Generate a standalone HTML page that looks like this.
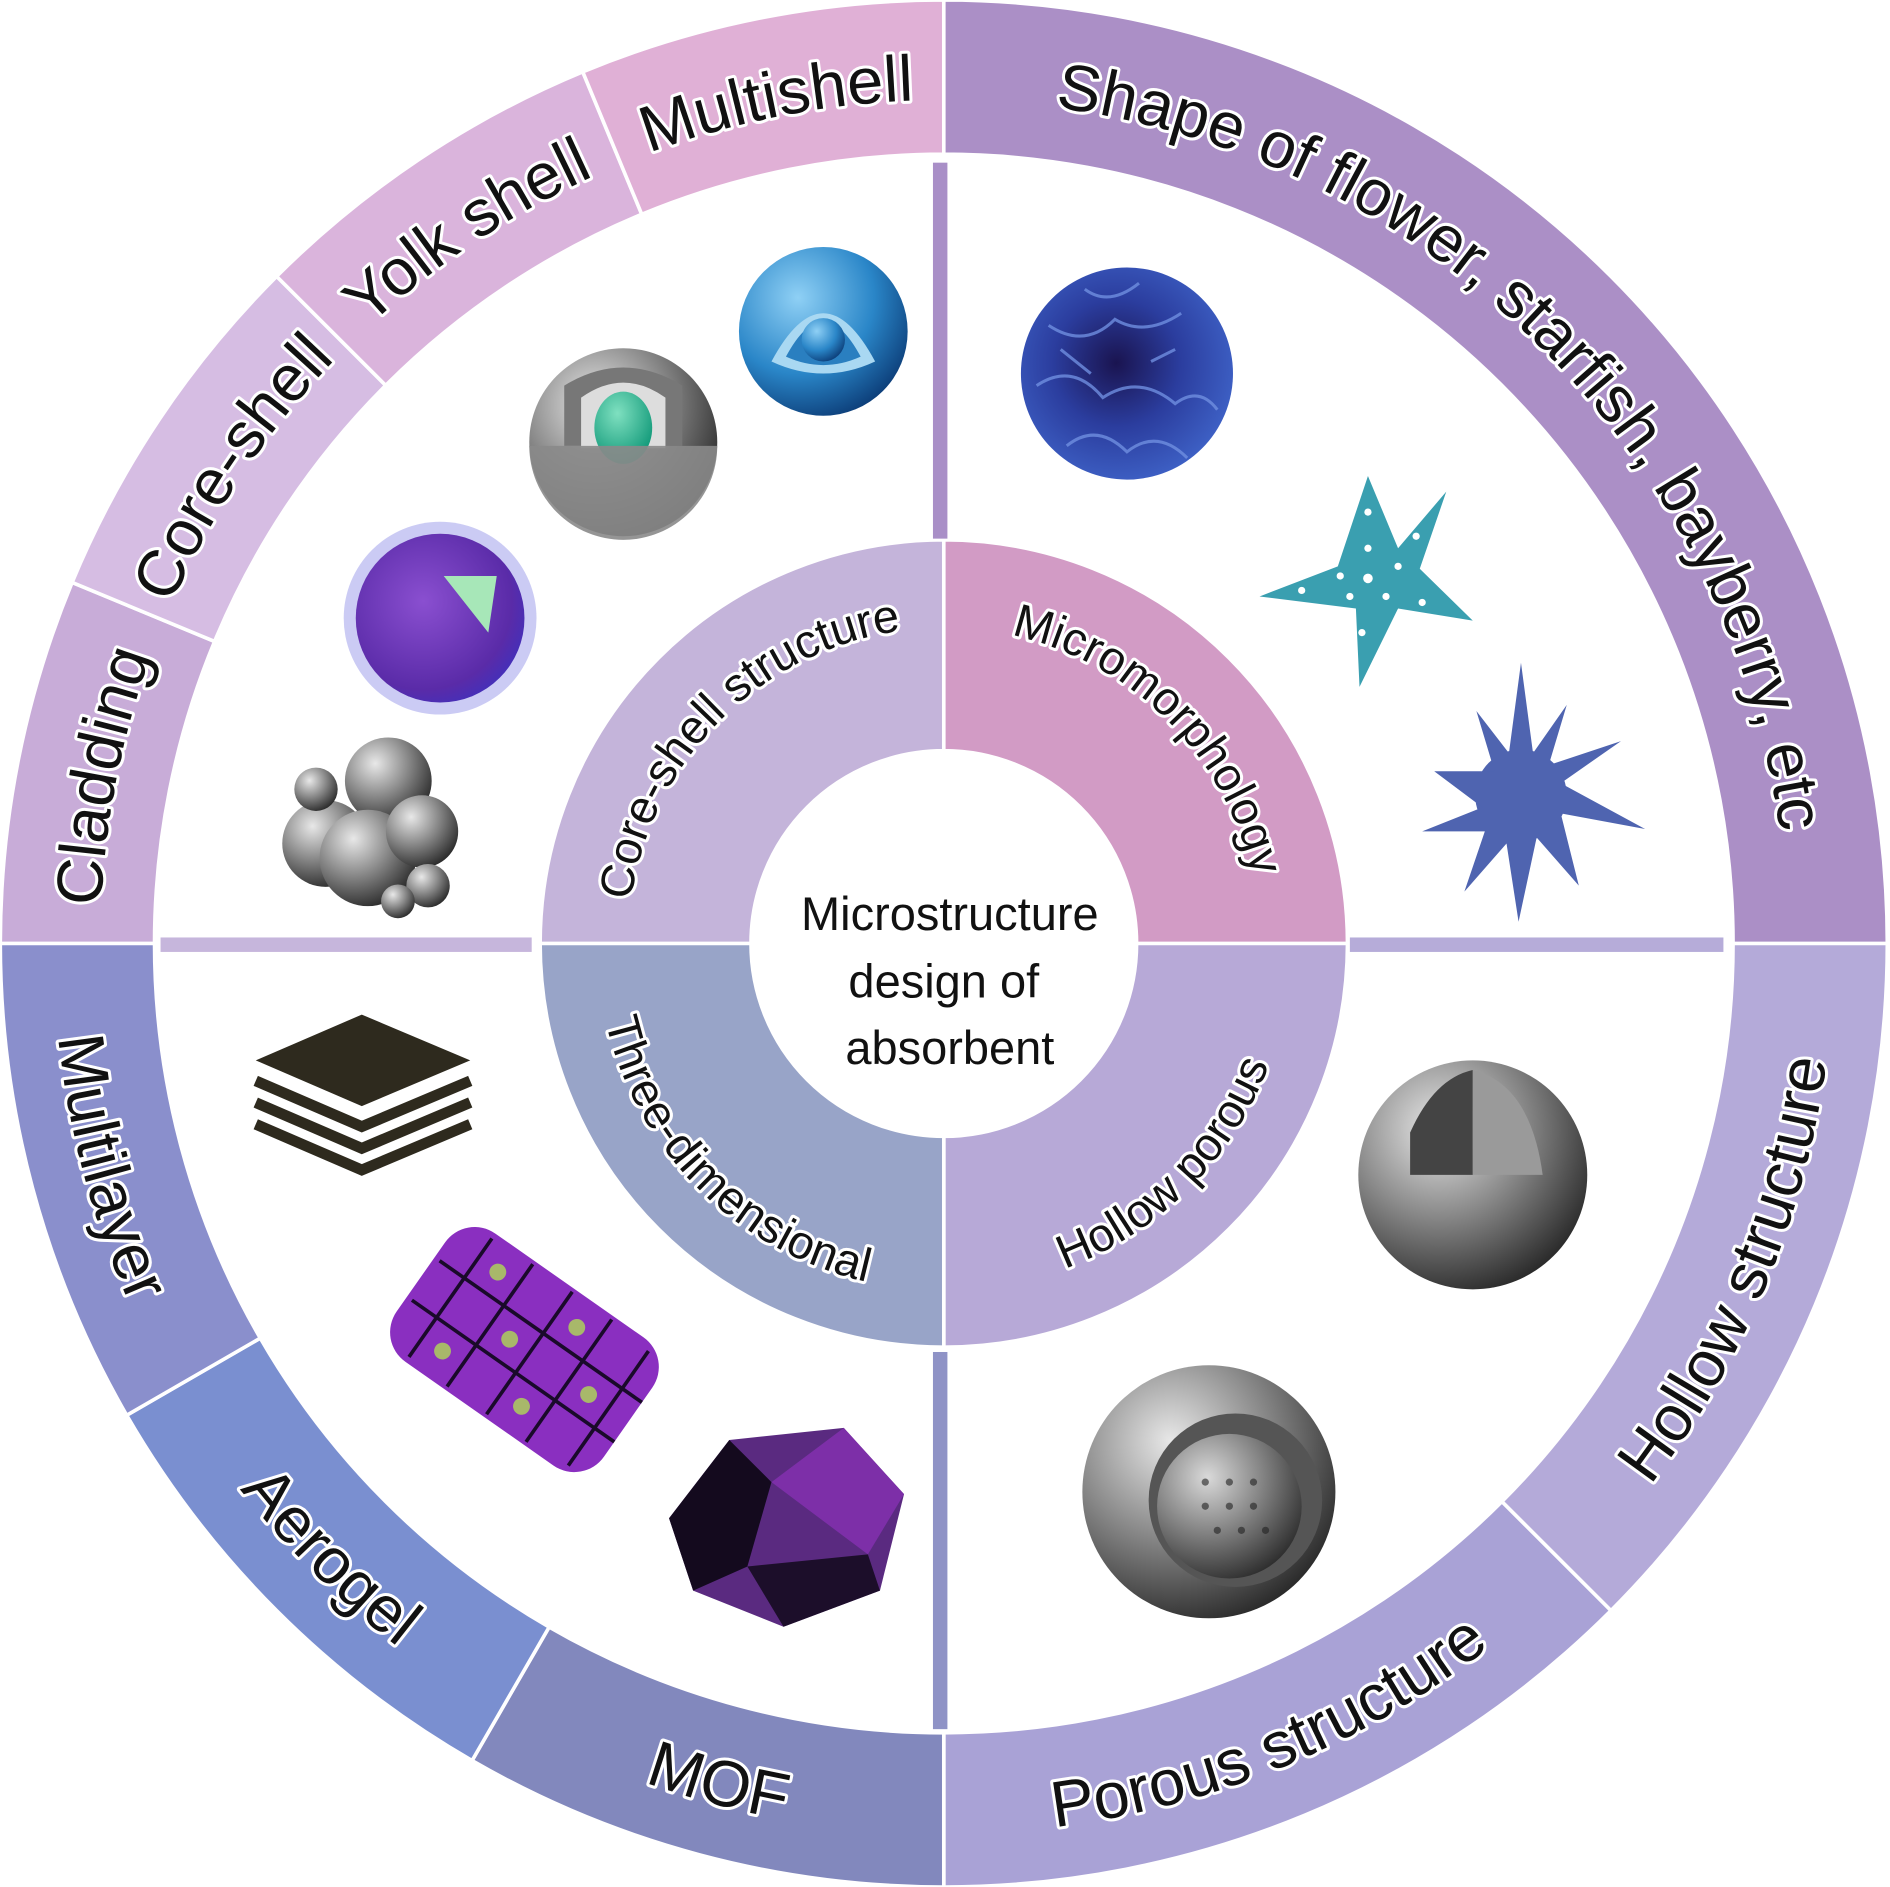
<!DOCTYPE html>
<html><head><meta charset="utf-8"><style>
html,body{margin:0;padding:0;background:#fff;}
svg{display:block;}
text{font-family:"Liberation Sans",sans-serif;}
.lbl{fill:#111;stroke:#fff;stroke-width:5;paint-order:stroke;stroke-linejoin:round;}
</style></head><body>
<svg id="s" width="1890" height="1887" viewBox="0 0 1568 1566" xmlns="http://www.w3.org/2000/svg">
<defs>
<radialGradient id="gGray" cx="35%" cy="30%" r="75%"><stop offset="0" stop-color="#e8e8e8"/><stop offset="0.5" stop-color="#8a8a8a"/><stop offset="1" stop-color="#2a2a2a"/></radialGradient>
<radialGradient id="gBlue" cx="35%" cy="30%" r="75%"><stop offset="0" stop-color="#8fd0f5"/><stop offset="0.6" stop-color="#2a86c8"/><stop offset="1" stop-color="#0d3f7a"/></radialGradient>
<radialGradient id="gPurp" cx="40%" cy="40%" r="70%"><stop offset="0" stop-color="#8a4fd0"/><stop offset="0.75" stop-color="#5a2ba8"/><stop offset="1" stop-color="#3b31c0"/></radialGradient>
<radialGradient id="gFlower" cx="45%" cy="45%" r="60%"><stop offset="0" stop-color="#1a1450"/><stop offset="0.5" stop-color="#2b3d9e"/><stop offset="1" stop-color="#3f63c8"/></radialGradient>
<radialGradient id="gGreen" cx="40%" cy="30%" r="70%"><stop offset="0" stop-color="#7fe0c0"/><stop offset="1" stop-color="#139a7a"/></radialGradient>
</defs>
<g id="rings"></g>
<rect x="774" y="135" width="12" height="312" fill="#a98fc7"/>
<rect x="774" y="1122" width="12" height="313" fill="#8f93c6"/>
<rect x="133" y="778" width="308" height="12" fill="#c6b6dc"/>
<rect x="1120" y="778" width="310" height="12" fill="#b6acd9"/>
<circle cx="783" cy="783" r="160" fill="#fff"/>

<circle cx="683" cy="275" r="70" fill="url(#gBlue)"/>
<path d="M640 300 Q683 220 726 300 Q683 320 640 300Z" fill="#a9d8f2"/>
<path d="M652 296 Q683 238 714 296 Q683 310 652 296Z" fill="#2a7fc0"/>
<circle cx="683" cy="282" r="18" fill="url(#gBlue)"/>
<circle cx="517" cy="367" r="78" fill="url(#gGray)"/>
<path d="M468 370 L468 320 Q517 290 566 320 L566 370Z" fill="#777"/>
<path d="M482 372 L482 330 Q517 305 552 330 L552 372Z" fill="#ddd"/>
<ellipse cx="517" cy="355" rx="24" ry="30" fill="url(#gGreen)"/>
<path d="M439 370 L595 370 A78 78 0 0 1 439 370Z" fill="#8a8a8a" opacity="0.9"/>
<circle cx="365" cy="513" r="80" fill="#6b6ae0" opacity="0.35"/>
<circle cx="365" cy="513" r="70" fill="url(#gPurp)"/>
<path d="M368 478 L412 478 L405 525 Z" fill="#a7e7b8"/>
<g fill="url(#gGray)">
<circle cx="322" cy="648" r="36"/><circle cx="270" cy="700" r="36"/><circle cx="305" cy="712" r="40"/>
<circle cx="350" cy="690" r="30"/><circle cx="262" cy="655" r="18"/><circle cx="355" cy="735" r="18"/><circle cx="330" cy="748" r="14"/>
</g>
<circle cx="935" cy="310" r="88" fill="url(#gFlower)"/>
<g stroke="#6f8ee0" stroke-width="2.5" fill="none" opacity="0.8">
<path d="M870 270 Q900 290 925 265 Q950 280 980 260 M860 320 Q890 300 915 330 Q945 310 975 335 Q995 320 1010 340 M885 370 Q910 350 935 375 Q960 355 985 380 M900 240 Q920 255 945 235 M880 290 L905 310 M955 300 L975 290"/>
</g>
<polygon points="1135,395 1160,455 1200,408 1178,472 1222,515 1160,505 1128,570 1125,505 1045,495 1110,470" fill="#3a9fb0"/>
<g fill="#fff"><circle cx="1135" cy="480" r="4"/><circle cx="1135" cy="455" r="3"/><circle cx="1160" cy="470" r="3"/><circle cx="1150" cy="495" r="3"/><circle cx="1120" cy="495" r="3"/><circle cx="1112" cy="478" r="3"/><circle cx="1130" cy="525" r="3"/><circle cx="1180" cy="500" r="3"/><circle cx="1080" cy="490" r="3"/><circle cx="1175" cy="445" r="3"/><circle cx="1135" cy="425" r="3"/></g>
<g fill="#4f64b0">
<circle cx="1262" cy="660" r="38"/>
<polygon points="1262,550 1272,625 1300,585 1285,635 1345,615 1295,650 1365,688 1295,675 1310,735 1275,695 1260,765 1250,700 1215,740 1232,690 1180,690 1230,670 1190,640 1240,640 1225,590 1252,625"/>
</g>
<g>
<polygon points="300,842 390,880 300,918 212,880" fill="#2e2a1e"/>
<path d="M212 897 L300 935 L390 897" stroke="#2e2a1e" stroke-width="9" fill="none"/>
<path d="M212 915 L300 953 L390 915" stroke="#2e2a1e" stroke-width="9" fill="none"/>
<path d="M212 933 L300 971 L390 933" stroke="#2e2a1e" stroke-width="9" fill="none"/>
</g>
<g transform="rotate(35 435 1120)">
<rect x="330" y="1055" width="210" height="130" rx="30" fill="#8a2fc0"/>
<g stroke="#1a0a2a" stroke-width="3" fill="none"><path d="M360 1060 L360 1180 M400 1058 L400 1182 M440 1058 L440 1182 M480 1058 L480 1182 M520 1062 L520 1178 M335 1100 L540 1100 M335 1140 L540 1140"/></g>
<g fill="#a8b86a"><circle cx="380" cy="1080" r="7"/><circle cx="460" cy="1080" r="7"/><circle cx="420" cy="1120" r="7"/><circle cx="500" cy="1120" r="7"/><circle cx="380" cy="1160" r="7"/><circle cx="460" cy="1160" r="7"/></g>
</g>
<polygon points="605,1195 700,1185 750,1240 730,1320 650,1350 575,1320 555,1260" fill="#5a2a80"/>
<polygon points="640,1230 700,1185 750,1240 720,1290" fill="#7d2fa8"/>
<polygon points="555,1260 605,1195 640,1230 620,1300 575,1320" fill="#140a1e"/>
<polygon points="620,1300 720,1290 730,1320 650,1350" fill="#1c0e2a"/>
<circle cx="1222" cy="975" r="95" fill="url(#gGray)"/>
<path d="M1170 975 L1170 940 Q1190 895 1222 888 L1222 975Z" fill="#444"/>
<path d="M1222 888 Q1270 900 1280 975 L1222 975Z" fill="#9a9a9a"/>
<circle cx="1003" cy="1238" r="105" fill="url(#gGray)"/>
<circle cx="1025" cy="1245" r="72" fill="#555"/>
<circle cx="1020" cy="1250" r="60" fill="url(#gGray)" opacity="0.9"/>
<g fill="#222" opacity="0.6"><circle cx="1000" cy="1230" r="3"/><circle cx="1020" cy="1230" r="3"/><circle cx="1040" cy="1230" r="3"/><circle cx="1000" cy="1250" r="3"/><circle cx="1020" cy="1250" r="3"/><circle cx="1040" cy="1250" r="3"/><circle cx="1010" cy="1270" r="3"/><circle cx="1030" cy="1270" r="3"/><circle cx="1050" cy="1270" r="3"/></g>

<path id="t1" fill="none"/><path id="t2" fill="none"/><path id="t3" fill="none"/><path id="t4" fill="none"/>
<path id="t5" fill="none"/><path id="t6" fill="none"/><path id="t7" fill="none"/><path id="t8" fill="none"/>
<path id="t9" fill="none"/><path id="t10" fill="none"/>
<path id="i1" fill="none"/><path id="i2" fill="none"/><path id="i3" fill="none"/><path id="i4" fill="none"/>
<g font-size="54">
<text class="lbl"><textPath href="#t1" startOffset="50%" text-anchor="middle">Cladding</textPath></text>
<text class="lbl"><textPath href="#t2" startOffset="50%" text-anchor="middle">Core-shell</textPath></text>
<text class="lbl"><textPath href="#t3" startOffset="50%" text-anchor="middle">Yolk shell</textPath></text>
<text class="lbl"><textPath href="#t4" startOffset="50%" text-anchor="middle">Multishell</textPath></text>
<text class="lbl"><textPath href="#t5" startOffset="50%" text-anchor="middle">Shape of flower, starfish, bayberry, etc</textPath></text>
<text class="lbl"><textPath href="#t6" startOffset="50%" text-anchor="middle">Hollow structure</textPath></text>
<text class="lbl"><textPath href="#t7" startOffset="50%" text-anchor="middle">Porous structure</textPath></text>
<text class="lbl"><textPath href="#t8" startOffset="50%" text-anchor="middle">MOF</textPath></text>
<text class="lbl"><textPath href="#t9" startOffset="50%" text-anchor="middle">Aerogel</textPath></text>
<text class="lbl"><textPath href="#t10" startOffset="50%" text-anchor="middle">Multilayer</textPath></text>
</g>
<g font-size="39">
<text class="lbl"><textPath href="#i1" startOffset="50%" text-anchor="middle">Core-shell structure</textPath></text>
<text class="lbl"><textPath href="#i2" startOffset="50%" text-anchor="middle">Micromorphology</textPath></text>
<text class="lbl"><textPath href="#i3" startOffset="50%" text-anchor="middle">Hollow porous</textPath></text>
<text class="lbl"><textPath href="#i4" startOffset="50%" text-anchor="middle">Three-dimensional</textPath></text>
</g>
<g font-size="39" fill="#111" text-anchor="middle">
<text x="788" y="772">Microstructure</text>
<text x="783" y="828">design of</text>
<text x="788" y="883">absorbent</text>
</g>
</svg>
<script>
var C=783,R=Math.PI/180;
function P(r,a){return [C+r*Math.cos(a*R),C+r*Math.sin(a*R)];}
function sector(r1,r2,a1,a2){var p1=P(r2,a1),p2=P(r2,a2),p3=P(r1,a2),p4=P(r1,a1),l=(a2-a1)>180?1:0;
return 'M'+p1+' A'+r2+' '+r2+' 0 '+l+' 1 '+p2+' L'+p3+' A'+r1+' '+r1+' 0 '+l+' 0 '+p4+'Z';}
function arc(r,a1,a2){var p1=P(r,a1),p2=P(r,a2);var sw=a2>a1?1:0;return 'M'+p1+' A'+r+' '+r+' 0 0 '+sw+' '+p2;}
var g=document.getElementById('rings'),ns='http://www.w3.org/2000/svg';
function add(d,f){var e=document.createElementNS(ns,'path');e.setAttribute('d',d);e.setAttribute('fill',f);e.setAttribute('stroke','#fff');e.setAttribute('stroke-width','3');g.appendChild(e);}
add(sector(655,783,180,202.5),'#c8acd8');
add(sector(655,783,202.5,225),'#d6bde3');
add(sector(655,783,225,247.5),'#dab4dc');
add(sector(655,783,247.5,270),'#e0b0d6');
add(sector(655,783,270,360),'#ab8fc6');
add(sector(655,783,0,45),'#b4aad9');
add(sector(655,783,45,90),'#a9a2d6');
add(sector(655,783,90,120),'#8288bd');
add(sector(655,783,120,150),'#7a8fd0');
add(sector(655,783,150,180),'#8a8fcc');
add(sector(160,335,180,270),'#c4b4da');
add(sector(160,335,270,360),'#d29bc5');
add(sector(160,335,0,90),'#b7a9d7');
add(sector(160,335,90,180),'#98a4c8');
function sp(id,d){document.getElementById(id).setAttribute('d',d);}
var rt=700,rb=739;
sp('t1',arc(rt,180,202.5));sp('t2',arc(rt,202.5,225));sp('t3',arc(rt,225,247.5));sp('t4',arc(rt,247.5,270));
sp('t5',arc(rt,270,360));
sp('t6',arc(rb,45,0));sp('t7',arc(rb,90,45));sp('t8',arc(rb,120,90));sp('t9',arc(rb,150,120));sp('t10',arc(rb,180,150));
sp('i1',arc(262,180,270));sp('i2',arc(262,270,360));sp('i3',arc(288,90,0));sp('i4',arc(288,180,90));
</script>
</body></html>
